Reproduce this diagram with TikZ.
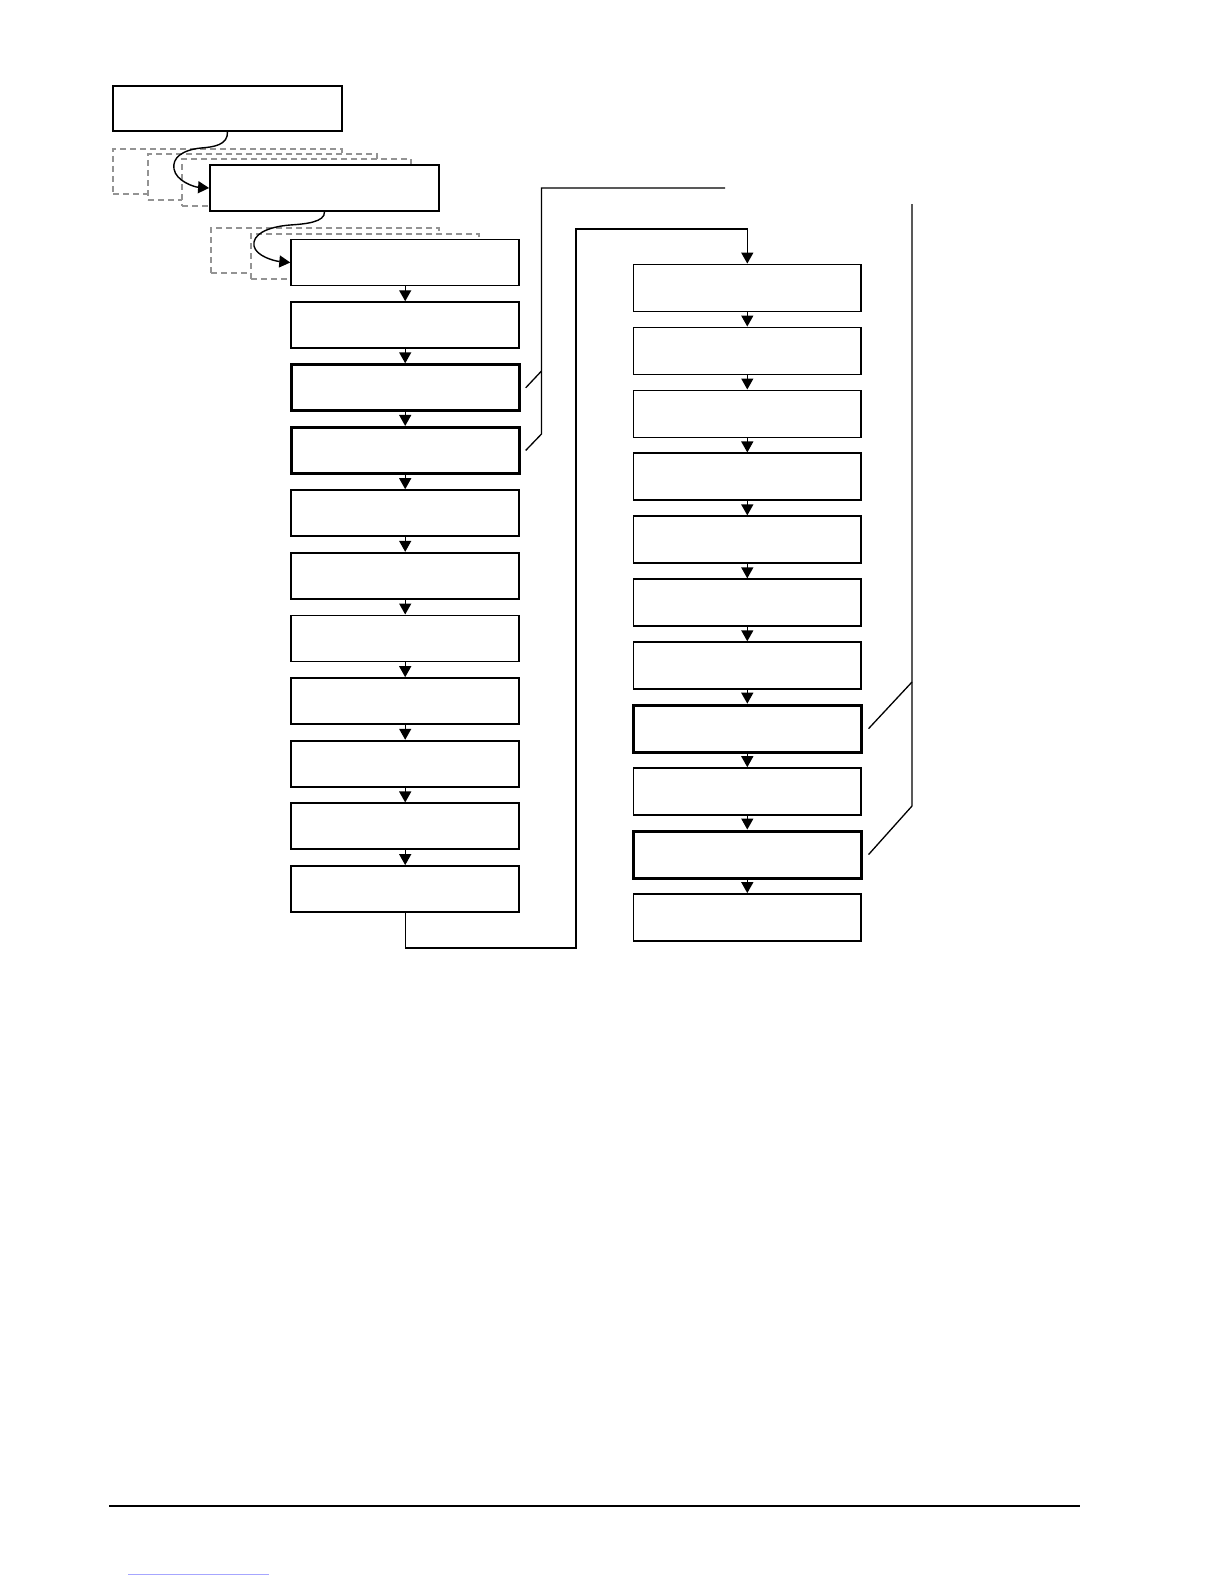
\documentclass[tikz,border=0pt]{standalone}
\usetikzlibrary{arrows.meta,calc}
\begin{document}
\begin{tikzpicture}[x=1pt,y=-1pt,
  box/.style={draw=black,fill=white,line width=1.8pt,rectangle,inner sep=0pt,minimum width=228pt,minimum height=46pt},
  thickbox/.style={box,line width=3pt},
  ghost/.style={draw=gray!85,fill=white,line width=1.5pt,dash pattern=on 6pt off 4pt,rectangle,inner sep=0pt,minimum width=229pt,minimum height=45pt},
  arr/.style={line width=1.4pt,-{Triangle[length=11pt,width=12pt]}},
  link/.style={line width=1.4pt}]
\useasboundingbox (0,0) rectangle (1224,1584);
% ghost boxes, first stack
\node[ghost] (d1) at (227.5,171.5) {};
\node[ghost,minimum height=46pt] (d2) at (262.5,177) {};
\node[ghost,minimum height=47pt] (d3) at (296.5,182.5) {};
\node[box,minimum width=229pt,minimum height=45pt] (A) at (227.5,108.3) {};
\node[box,minimum width=229pt] (B) at (324.5,188) {};
% ghost boxes, second stack
\node[ghost,minimum width=228pt] (d4) at (325,250.5) {};
\node[ghost,minimum width=228pt] (d5) at (365,256.5) {};
% left column
\foreach \i/\s in {1/box,2/box,3/thickbox,4/thickbox,5/box,6/box,7/box,8/box,9/box,10/box,11/box}{
  \node[\s] (L\i) at (405.2,{262.5+62.65*(\i-1)}) {};
}
% right column
\foreach \i/\s in {1/box,2/box,3/box,4/box,5/box,6/box,7/box,8/thickbox,9/box,10/thickbox,11/box}{
  \node[\s,minimum width=227.5pt,minimum height=47pt] (R\i) at (747.3,{288+62.95*(\i-1)}) {};
}
% arrows between boxes
\foreach \i [evaluate=\i as \j using int(\i+1)] in {1,...,10}{
  \draw[arr] (L\i.south) -- (L\j.north);
  \draw[arr] (R\i.south) -- (R\j.north);
}
% curved arrows
\draw[arr] (A.south) .. controls (228,145) and (214,147) .. (201,148)
  .. controls (182,150) and (172,158) .. (174,169)
  .. controls (176,181) and (194,187) .. (B.west);
\draw[arr] (B.south) .. controls (325,222) and (306,224) .. (290,225)
  .. controls (266,227) and (252,235) .. (254,246)
  .. controls (256,256) and (274,261) .. (L1.west);
% connector from left column to right column
\coordinate (c1) at (405.2,948);
\coordinate (c2) at (576,948);
\coordinate (c3) at (576,229);
\coordinate (c4) at (747.3,229);
\draw[link,-{Triangle[length=11pt,width=12pt]}] (L11.south) -- (c1) -- (c2) -- (c3) -- (c4) -- (R1.north);
% left bracket
\coordinate (lb0) at (725,188);
\coordinate (lb1) at (541.5,188);
\coordinate (lb2) at (541.5,434);
\coordinate (lb3) at (541.5,371);
\draw[line width=1.3pt] (lb0) -- (lb1) -- (lb2) -- ($(L4.east)+(5,0)$);
\draw[line width=1.3pt] ($(L3.east)+(5,0)$) -- (lb3);
% right bracket
\coordinate (rb0) at (912,204);
\coordinate (rb1) at (912,806);
\coordinate (rb2) at (912,682);
\draw[line width=1.3pt] (rb0) -- (rb1) -- ($(R10.east)+(6,0)$);
\draw[line width=1.3pt] ($(R8.east)+(6,0)$) -- (rb2);
% footer
\coordinate (f0) at (109,1506);
\coordinate (f1) at (1080,1506);
\draw[line width=1.5pt] (f0) -- (f1);
\coordinate (u0) at (128,1574);
\coordinate (u1) at (269,1574);
\draw[line width=0.8pt,blue!35] (u0) -- (u1);
\end{tikzpicture}
\end{document}
